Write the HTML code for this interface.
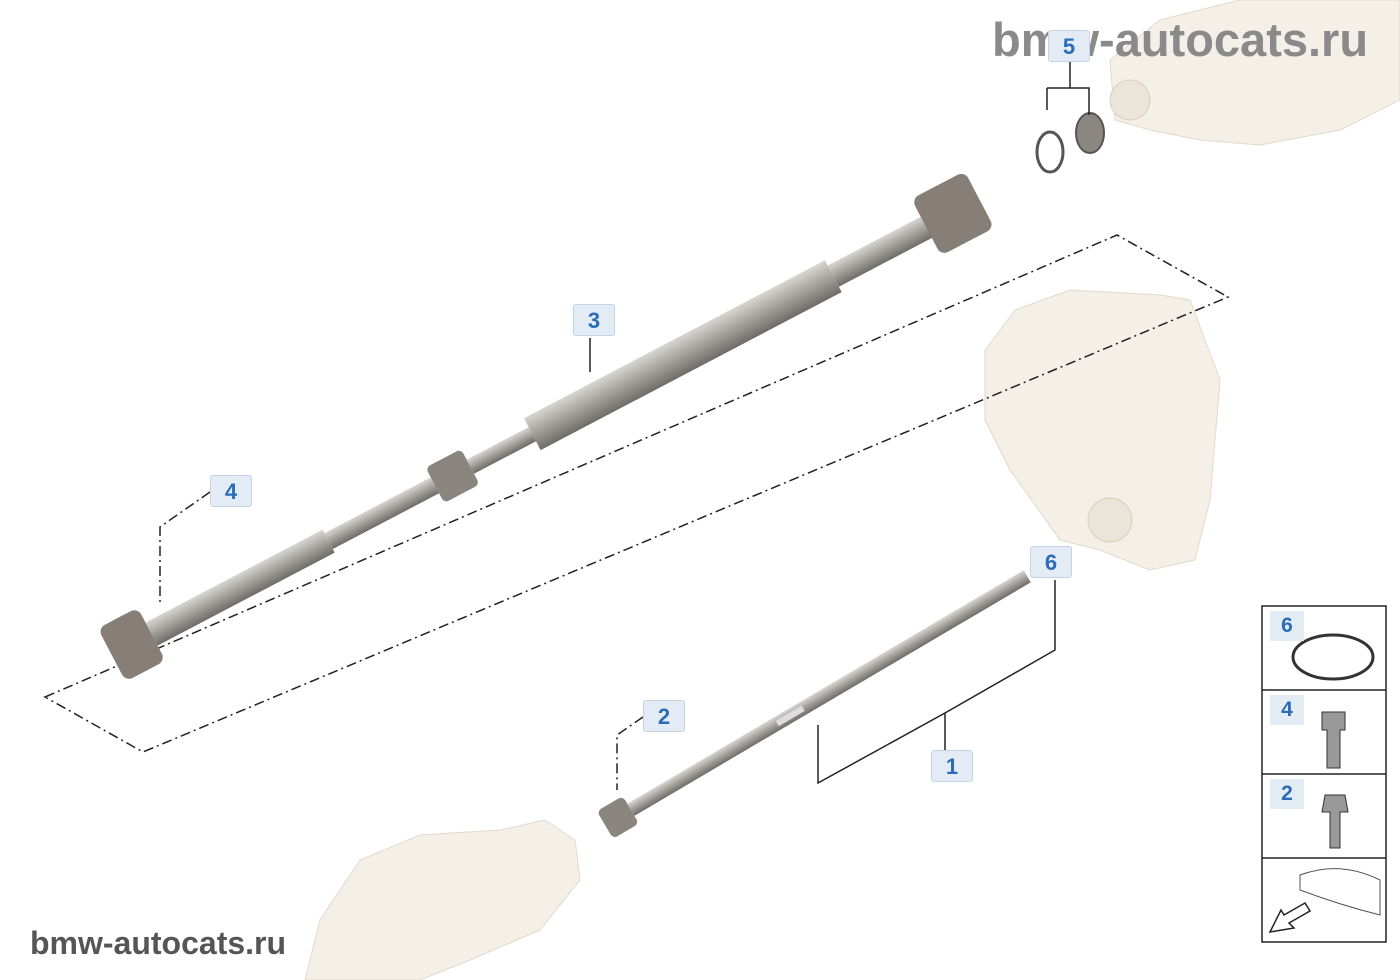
<!DOCTYPE html>
<html><head><meta charset="utf-8"><style>
html,body{margin:0;padding:0;background:#fff;}
body{width:1400px;height:980px;overflow:hidden;position:relative;font-family:"Liberation Sans",sans-serif;}
svg{position:absolute;left:0;top:0;}
.lbl{position:absolute;width:42px;height:32px;background:#e3ebf5;border:1px solid #c5d3e6;border-radius:3px;color:#2c6bb8;font-weight:bold;font-size:22px;text-align:center;line-height:32px;box-sizing:border-box;}
.wm{position:absolute;font-weight:bold;color:#7a7a7a;white-space:nowrap;}
.leg{position:absolute;color:#2c6bb8;font-weight:bold;font-size:21px;background:#e3ebf5;width:34px;height:30px;text-align:center;line-height:30px;}
</style></head><body>
<svg width="1400" height="980" viewBox="0 0 1400 980">
<defs>
<linearGradient id="sh" x1="0" y1="0" x2="0" y2="1">
<stop offset="0" stop-color="#d8d6d2"/><stop offset="0.45" stop-color="#a9a6a0"/><stop offset="1" stop-color="#6f6c67"/></linearGradient>
</defs>
<g fill="#f4efe7" stroke="#e2d9ca">
<path d="M1110,60 L1160,20 L1240,0 L1400,0 L1400,100 L1340,130 L1260,145 L1200,140 L1150,130 L1115,120 Z"/>
<path d="M985,350 L1015,310 L1070,290 L1160,295 L1190,300 L1220,380 L1210,500 L1195,560 L1150,570 L1100,550 L1060,540 L1010,470 L985,420 Z"/>
<path d="M305,980 L320,920 L360,860 L420,835 L500,830 L545,820 L575,840 L580,880 L540,930 L470,960 L420,980 Z"/>
</g>
<circle cx="1130" cy="100" r="20" fill="#ebe4d8" stroke="#d8cebd"/>
<circle cx="1110" cy="520" r="22" fill="#ebe4d8" stroke="#d8cebd"/>
<path d="M45,697 L1117,235 L1228,297 L143,752 Z" fill="none" stroke="#222" stroke-width="1.5" stroke-dasharray="10,4,2,4"/>
<g transform="translate(125,648) rotate(-27.7)">
<rect x="30" y="-13" width="200" height="26" fill="url(#sh)"/>
<rect x="230" y="-9" width="120" height="18" fill="url(#sh)"/>
<rect x="350" y="-20" width="40" height="40" rx="5" fill="#8a857e"/>
<rect x="390" y="-8" width="70" height="16" fill="url(#sh)"/>
<rect x="460" y="-18" width="340" height="36" fill="url(#sh)"/>
<rect x="800" y="-12" width="110" height="24" fill="url(#sh)"/>
<rect x="905" y="-32" width="60" height="64" rx="8" fill="#877f77"/>
<rect x="-15" y="-30" width="45" height="60" rx="8" fill="#877f77"/>
</g>
<g transform="translate(605,825) rotate(-30.5)">
<rect x="0" y="-16" width="30" height="32" rx="5" fill="#8a857e"/>
<rect x="30" y="-7" width="460" height="14" fill="url(#sh)"/>
<rect x="200" y="-3" width="30" height="6" fill="#ddd"/>
</g>
<ellipse cx="1050" cy="152" rx="13" ry="20" fill="none" stroke="#555" stroke-width="3"/>
<ellipse cx="1090" cy="133" rx="14" ry="20" fill="#8b8680" stroke="#555" stroke-width="2"/>
<g stroke="#222" stroke-width="1.5" fill="none">
<path d="M590,338 L590,372"/>
<path d="M1070,62 L1070,88 M1047,88 L1089,88 L1089,115 M1047,88 L1047,110"/>
<path d="M1055,580 L1055,650 L945,713 M818,725 L818,783 L945,713 L945,750"/>
</g>
<g stroke="#222" stroke-width="1.5" fill="none" stroke-dasharray="10,4,2,4">
<path d="M210,492 L160,527 L160,605"/>
<path d="M643,717 L617,735 L617,790"/>
</g>
<g stroke="#222" stroke-width="1.5" fill="#fff">
<rect x="1262" y="606" width="124" height="336"/>
<path d="M1262,690 H1386 M1262,774 H1386 M1262,858 H1386"/>
</g>
<ellipse cx="1333" cy="657" rx="40" ry="22" fill="none" stroke="#333" stroke-width="3"/>
<path d="M1322,712 L1345,712 L1345,730 L1340,730 L1340,768 L1327,768 L1327,730 L1322,730 Z" fill="#999" stroke="#333"/>
<path d="M1325,795 L1345,795 L1348,812 L1340,812 L1340,848 L1330,848 L1330,812 L1322,812 Z" fill="#999" stroke="#333"/>
<path d="M1300,875 Q1340,860 1380,880 L1380,915 Q1340,905 1300,890 Z" fill="none" stroke="#555"/>
<path d="M1305,903 L1284,915 L1281,910 L1270,932 L1294,928 L1289,923 L1310,911 Z" fill="#fff" stroke="#222" stroke-width="1.5"/>
</svg>
<div class="wm" style="left:992px;top:12px;font-size:47px;color:#8a8a8a;">bmw-autocats.ru</div>
<div class="wm" style="left:30px;top:925px;font-size:32px;color:#555;">bmw-autocats.ru</div>
<div class="lbl" style="left:573px;top:304px;">3</div>
<div class="lbl" style="left:210px;top:475px;">4</div>
<div class="lbl" style="left:1048px;top:30px;">5</div>
<div class="lbl" style="left:1030px;top:546px;">6</div>
<div class="lbl" style="left:643px;top:700px;">2</div>
<div class="lbl" style="left:931px;top:750px;">1</div>
<div class="leg" style="left:1270px;top:611px;">6</div>
<div class="leg" style="left:1270px;top:695px;">4</div>
<div class="leg" style="left:1270px;top:779px;">2</div>
</body></html>
